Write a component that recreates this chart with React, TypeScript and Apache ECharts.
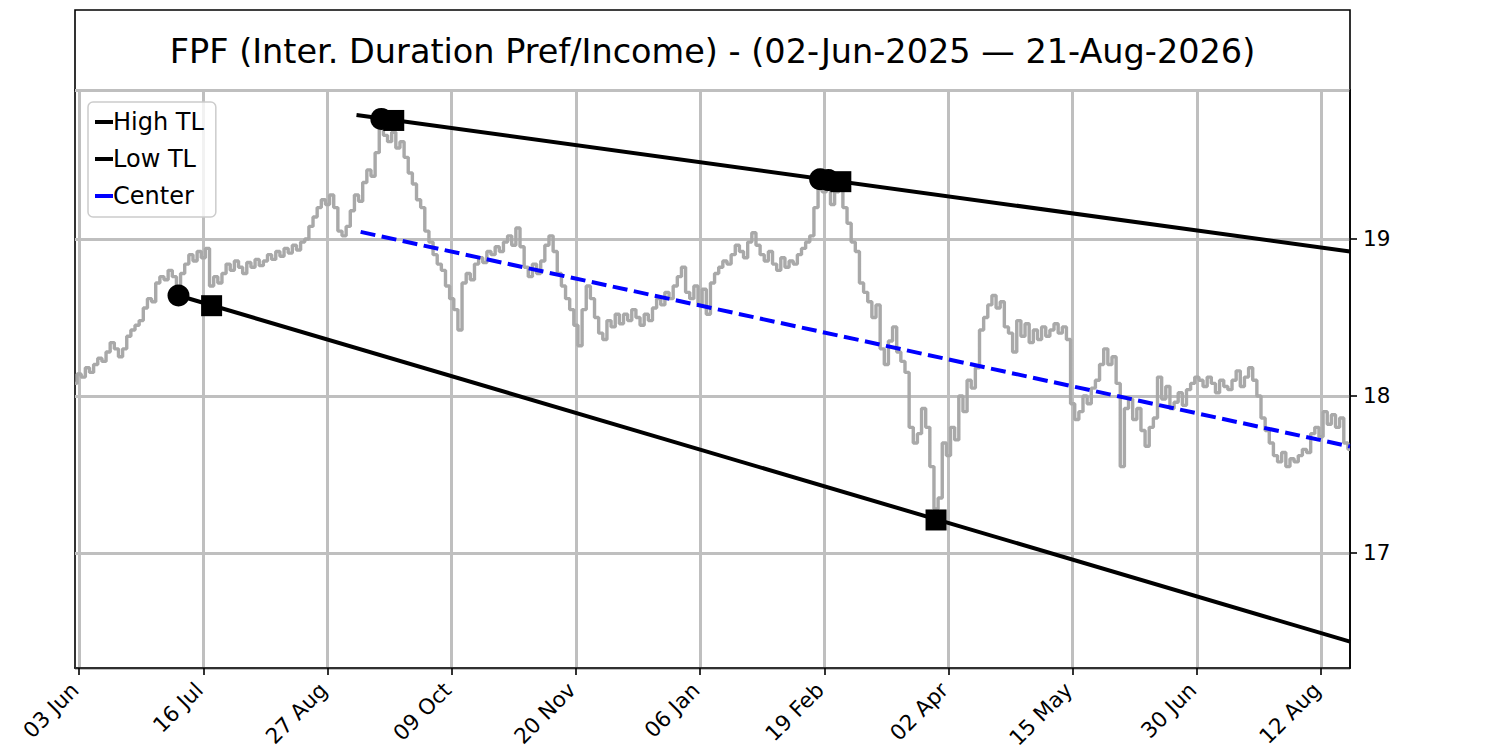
import React, { useEffect, useRef } from "react";
import * as echarts from "echarts";

const TITLE = "FPF (Inter. Duration Pref/Income) - (02-Jun-2025 \u2014 21-Aug-2026)";
const FONT = "DejaVu Sans";

// tick labels every 30 trading days starting at index 1
const TICK_LABELS = ["03 Jun", "16 Jul", "27 Aug", "09 Oct", "20 Nov", "06 Jan", "19 Feb", "02 Apr", "15 May", "30 Jun", "12 Aug"];
const TICK_STEP = 30;
const TICK_OFFSET = 1;

// daily price (02-Jun-2025 .. 21-Aug-2026)
const PRICE = [
  18.08, 18.14, 18.12, 18.18, 18.15,
  18.20, 18.24, 18.22,
  18.28, 18.34, 18.30, 18.25, 18.30,
  18.38, 18.42, 18.45, 18.48,
  18.56, 18.62, 18.60,
  18.72, 18.76,
  18.74, 18.80, 18.76, 18.66, 18.78,
  18.84, 18.90, 18.86, 18.92, 18.88, 18.94,
  18.70, 18.76, 18.72,
  18.78, 18.84, 18.80, 18.86, 18.82, 18.78, 18.85, 18.82, 18.87, 18.83,
  18.86, 18.90, 18.87, 18.92, 18.89, 18.94, 18.91, 18.96, 18.93, 18.98, 19.00,
  19.08, 19.14, 19.20, 19.25, 19.22,
  19.28, 19.20,
  19.05, 19.02, 19.08,
  19.18, 19.28, 19.24,
  19.36, 19.44, 19.40,
  19.55, 19.72, 19.66, 19.62, 19.68,
  19.58, 19.62, 19.52,
  19.42, 19.35, 19.25, 19.20,
  19.05, 18.98,
  18.90, 18.84, 18.80,
  18.70, 18.62, 18.55, 18.42,
  18.72, 18.78, 18.74, 18.84,
  18.88, 18.85, 18.92, 18.90, 18.95, 18.92,
  18.98, 19.02, 18.96, 19.07, 18.95,
  18.82, 18.76, 18.84, 18.78, 18.86,
  18.96, 19.02, 18.92,
  18.78, 18.70, 18.62, 18.55, 18.45,
  18.32, 18.55,
  18.70, 18.62, 18.50,
  18.40, 18.36, 18.48, 18.44, 18.52,
  18.46, 18.52, 18.48, 18.55, 18.50, 18.45, 18.52, 18.48,
  18.56, 18.62, 18.58, 18.66, 18.62,
  18.70, 18.76, 18.82,
  18.66, 18.62, 18.70,
  18.58, 18.68, 18.52, 18.72,
  18.78, 18.82, 18.86, 18.84, 18.90,
  18.96, 18.92, 18.88,
  18.98, 19.04, 18.96,
  18.90, 18.86, 18.92,
  18.84, 18.80, 18.88, 18.82, 18.86, 18.84,
  18.90, 18.94, 18.98, 19.02,
  19.20, 19.34, 19.30, 19.35,
  19.22, 19.30, 19.32, 19.20,
  19.10, 18.98, 18.92,
  18.72, 18.66, 18.60,
  18.50, 18.58, 18.30,
  18.20, 18.35, 18.44, 18.28, 18.22,
  18.15, 17.80, 17.70, 17.76,
  17.92, 17.80,
  17.55, 17.28, 17.35, 17.70,
  17.62, 17.80, 17.72,
  18.00, 17.90, 18.10, 18.05, 18.18,
  18.42, 18.50,
  18.58, 18.64, 18.56, 18.60,
  18.44, 18.40, 18.28, 18.48,
  18.38, 18.46, 18.34, 18.42, 18.36, 18.44, 18.38,
  18.42, 18.46, 18.40, 18.44, 18.36,
  17.95, 17.85, 17.90,
  18.00, 17.95, 18.05, 18.10, 18.20,
  18.30, 18.20, 18.25, 18.08,
  17.55, 17.92, 17.98,
  17.85, 17.92, 17.78, 17.68, 17.80, 17.86,
  18.12, 17.98, 18.06, 17.92,
  17.96, 18.02, 17.94, 18.04, 18.08, 18.12,
  18.10, 18.06, 18.12, 18.08, 18.02, 18.10, 18.06, 18.04,
  18.10, 18.16, 18.06, 18.12, 18.18, 18.10, 18.00,
  17.86, 17.78, 17.70,
  17.62, 17.58, 17.64, 17.55, 17.60, 17.58, 17.62, 17.66, 17.64,
  17.76, 17.80, 17.74,
  17.90, 17.82, 17.88, 17.80, 17.86,
  17.70, 17.66,
];

// trend lines (start/end index and value)
const HIGH_TL_X = [68, 308];
const HIGH_TL_Y = [19.79, 18.92];
const LOW_TL_X = [25, 308];
const LOW_TL_Y = [18.64, 16.435];
const CENTER_X = [69, 308];
const CENTER_Y = [19.045, 17.678];

// pivot (circle) and touch (square) markers
const PIVOT_X = [74, 180, 182, 25];
const PIVOT_Y = [19.765, 19.38, 19.375, 18.64];
const TOUCH_X = [77, 185, 33, 208];
const TOUCH_Y = [19.755, 19.365, 18.575, 17.21];

const Y_MIN = 16.267;
const Y_MAX = 19.949;

const zip = (xs: number[], ys: number[]) => xs.map((x, i) => [x, ys[i]]);
const isTick = (i: number) => i % TICK_STEP === TICK_OFFSET;

export default function App() {
  const ref = useRef<HTMLDivElement>(null);

  useEffect(() => {
    if (!ref.current) return;
    const chart = echarts.init(ref.current, undefined, { renderer: "svg" });
    const categories = PRICE.map((_, i) => String(i));

    chart.setOption({
      animation: false,
      backgroundColor: "#ffffff",
      textStyle: { fontFamily: FONT },
      grid: {
        left: 75,
        right: 150,
        top: 90,
        bottom: 82,
        show: true,
        containLabel: false,
        outerBoundsMode: "none",
        borderColor: "#000",
        borderWidth: 1.6,
        backgroundColor: "transparent",
      },
      graphic: [
        {
          type: "rect",
          shape: { x: 75, y: 10, width: 1275, height: 80 },
          style: { fill: "#fff", stroke: "#000", lineWidth: 1.6 },
        },
        {
          type: "text",
          x: 712.5,
          y: 51,
          style: {
            text: TITLE,
            fontSize: 33.5,
            fontFamily: FONT,
            fill: "#000",
            align: "center",
            verticalAlign: "middle",
            textAlign: "center",
            textVerticalAlign: "middle",
          },
        },
      ],
      legend: {
        data: ["High TL", "Low TL", "Center"],
        orient: "vertical",
        left: 88,
        top: 102,
        icon: "rect",
        itemWidth: 18,
        itemHeight: 4,
        itemGap: 13,
        selectedMode: false,
        backgroundColor: "rgba(255,255,255,0.8)",
        borderColor: "#cccccc",
        borderWidth: 1.5,
        borderRadius: 5,
        padding: [8, 12, 9, 7],
        textStyle: {
          fontSize: 24,
          lineHeight: 24,
          fontFamily: FONT,
          color: "#000",
          padding: [0, 0, 0, -5],
        },
      },
      xAxis: {
        type: "category",
        data: categories,
        boundaryGap: false,
        axisLine: { show: true, lineStyle: { color: "#000", width: 1.6 } },
        axisTick: {
          show: true,
          interval: (i: number) => isTick(i),
          length: 7,
          lineStyle: { color: "#000", width: 1.6 },
        },
        axisLabel: {
          interval: (i: number) => isTick(i),
          formatter: (_v: string, i: number) => TICK_LABELS[(i - TICK_OFFSET) / TICK_STEP] ?? "",
          rotate: 45,
          fontSize: 21.5,
          fontFamily: FONT,
          color: "#000",
          margin: 14,
          padding: [0, 6, 0, 0],
        },
        splitLine: {
          show: true,
          interval: (i: number) => isTick(i),
          lineStyle: { color: "#bfbfbf", width: 3 },
        },
      },
      yAxis: {
        type: "value",
        position: "right",
        min: Y_MIN,
        max: Y_MAX,
        minInterval: 1,
        maxInterval: 1,
        axisLine: { show: true, lineStyle: { color: "#000", width: 1.6 } },
        axisTick: { show: true, length: 7, lineStyle: { color: "#000", width: 1.6 } },
        axisLabel: {
          showMinLabel: false,
          showMaxLabel: false,
          formatter: (v: number) => (Math.abs(v - Math.round(v)) < 1e-6 ? String(Math.round(v)) : ""),
          fontSize: 21.5,
          fontFamily: FONT,
          color: "#000",
          margin: 13,
        },
        splitLine: { show: true, lineStyle: { color: "#bfbfbf", width: 3 } },
      },
      series: [
        {
          name: "Price",
          type: "line",
          data: PRICE,
          showSymbol: false,
          symbol: "none",
          step: "middle",
          lineStyle: { color: "#a9a9a9", width: 3.4 },
          itemStyle: { color: "#a9a9a9" },
          z: 2,
        },
        {
          name: "High TL",
          type: "line",
          data: zip(HIGH_TL_X, HIGH_TL_Y),
          symbol: "none",
          lineStyle: { color: "#000", width: 4 },
          itemStyle: { color: "#000" },
          z: 3,
        },
        {
          name: "Low TL",
          type: "line",
          data: zip(LOW_TL_X, LOW_TL_Y),
          symbol: "none",
          lineStyle: { color: "#000", width: 4 },
          itemStyle: { color: "#000" },
          z: 3,
        },
        {
          name: "Center",
          type: "line",
          data: zip(CENTER_X, CENTER_Y),
          symbol: "none",
          lineStyle: { color: "#0000ff", width: 4, type: [15, 6.5] },
          itemStyle: { color: "#0000ff" },
          z: 4,
        },
        {
          name: "Pivots",
          type: "scatter",
          data: zip(PIVOT_X, PIVOT_Y),
          symbol: "circle",
          symbolSize: 22,
          itemStyle: { color: "#000", opacity: 1 },
          z: 5,
        },
        {
          name: "Touches",
          type: "scatter",
          data: zip(TOUCH_X, TOUCH_Y),
          symbol: "rect",
          symbolSize: 21,
          itemStyle: { color: "#000", opacity: 1 },
          z: 6,
        },
      ],
    });

    return () => chart.dispose();
  }, []);

  return (
    <div
      ref={ref}
      style={{ position: "fixed", left: 0, top: 0, width: 1500, height: 750, background: "#fff" }}
    />
  );
}
